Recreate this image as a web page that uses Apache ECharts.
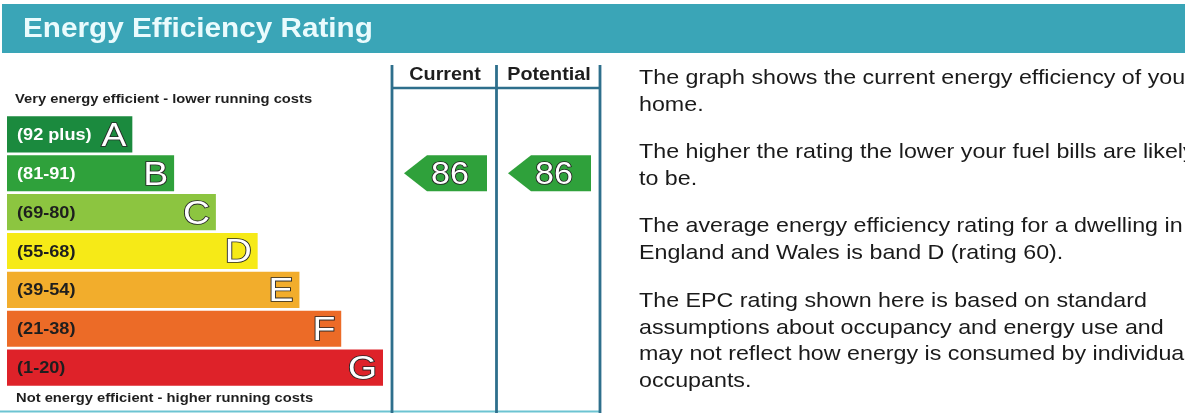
<!DOCTYPE html>
<html>
<head>
<meta charset="utf-8">
<script src="https://cdn.jsdelivr.net/npm/echarts@6/dist/echarts.min.js"></script>
<style>
  html, body { margin: 0; padding: 0; background: #ffffff; }
  #chart { width: 1185px; height: 414px; }
</style>
</head>
<body>
<div id="chart"></div>
<script>
// Energy efficiency bands, best (A) to worst (G)
const bandLetters = ['A', 'B', 'C', 'D', 'E', 'F', 'G'];
const bandRanges = ['(92 plus)', '(81-91)', '(69-80)', '(55-68)', '(39-54)', '(21-38)', '(1-20)'];
const bandMinimums = [92, 81, 69, 55, 39, 21, 1];
const bandLengths = [3, 4, 5, 6, 7, 8, 9];

// Ratings shown in the two right-hand columns
const ratingColumns = ['Current', 'Potential'];
const ratingValues = [86, 86];

const infoParagraphs = [
  'The graph shows the current energy efficiency of your\nhome.',
  'The higher the rating the lower your fuel bills are likely\nto be.',
  'The average energy efficiency rating for a dwelling in\nEngland and Wales is band D (rating 60).',
  'The EPC rating shown here is based on standard\nassumptions about occupancy and energy use and\nmay not reflect how energy is consumed by individual\noccupants.'
];

// Palette
const bandColors = ['#1b8a3e', '#2fa13b', '#8cc540', '#f6ea17', '#f2ad2c', '#ec6b27', '#de2229'];
const FONT = "'Liberation Sans', Arial, Helvetica, sans-serif";
const STRETCH = 1.1;
const frameColor = '#2e6f8c';

function bandIndexFor(rating) {
  for (let i = 0; i < bandMinimums.length; i++) {
    if (rating >= bandMinimums[i]) return i;
  }
  return bandMinimums.length - 1;
}

const bandData = bandLetters.map((l, i) => [i, bandLengths[i]]);
const ratingData = ratingValues.map((v, i) => [i, bandIndexFor(v), v]);

function renderBand(params, api) {
  const idx = api.value(0);
  const len = api.value(1);
  const start = api.coord([0, idx]);
  const end = api.coord([len, idx]);
  const h = api.size([0, 1])[1] * 0.93;
  const cy = start[1];
  const dark = idx >= 2;
  return {
    type: 'group',
    children: [
      {
        type: 'rect',
        shape: { x: start[0], y: cy - h / 2, width: end[0] - start[0], height: h },
        style: { fill: bandColors[idx] }
      },
      {
        type: 'text',
        x: start[0] + 10, y: cy + 1,
        scaleX: STRETCH,
        style: {
          text: bandRanges[idx],
          fill: dark ? '#1e1e1e' : '#ffffff',
          font: 'bold 16.5px ' + FONT,
          align: 'left', verticalAlign: 'middle',
          textAlign: 'left', textVerticalAlign: 'middle'
        }
      },
      {
        type: 'text',
        x: end[0] - 6, y: cy + 2,
        scaleX: STRETCH,
        style: {
          text: bandLetters[idx],
          fill: '#ffffff',
          stroke: '#262626',
          lineWidth: 1.7,
          font: '34px ' + FONT,
          align: 'right', verticalAlign: 'middle',
          textAlign: 'right', textVerticalAlign: 'middle'
        }
      }
    ]
  };
}

function renderRating(params, api) {
  const col = api.value(0);
  const band = api.value(1);
  const value = api.value(2);
  const c = api.coord([col, band]);
  const colW = api.size([1, 0])[0];
  const h = api.size([0, 1])[1] * 0.93;
  const colLeft = c[0] - colW / 2;
  const tip = colLeft + 12;
  const body = tip + 23;
  const right = colLeft + 95;
  const top = c[1] - h / 2;
  const bottom = c[1] + h / 2;
  return {
    type: 'group',
    children: [
      {
        type: 'polygon',
        shape: { points: [[tip, c[1]], [body, top], [right, top], [right, bottom], [body, bottom]] },
        style: { fill: bandColors[band] }
      },
      {
        type: 'text',
        x: right - 37, y: c[1] + 2,
        scaleX: STRETCH,
        style: {
          text: String(value),
          fill: '#ffffff',
          stroke: '#222222',
          lineWidth: 1.6,
          font: '31px ' + FONT,
          align: 'center', verticalAlign: 'middle',
          textAlign: 'center', textVerticalAlign: 'middle'
        }
      }
    ]
  };
}

function txt(x, y, text, font, fill, align, extra) {
  return Object.assign({
    type: 'text', x: x, y: y, scaleX: STRETCH, silent: true,
    style: {
      text: text, font: font, fill: fill,
      align: align || 'left', verticalAlign: 'middle',
      textAlign: align || 'left', textVerticalAlign: 'middle'
    }
  }, extra || {});
}

function line(x1, y1, x2, y2, color, w) {
  return { type: 'line', silent: true, shape: { x1: x1, y1: y1, x2: x2, y2: y2 }, style: { stroke: color, lineWidth: w } };
}

const paragraphTops = [65, 139, 213, 288];
const graphics = [
  { type: 'rect', silent: true, shape: { x: 2, y: 4, width: 1183, height: 49 }, style: { fill: '#3aa5b7' } },
  txt(23, 30, 'Energy Efficiency Rating', 'bold 27px ' + FONT, '#eafbfd'),
  txt(15, 99.5, 'Very energy efficient - lower running costs', 'bold 13.4px ' + FONT, '#1e1e1e'),
  txt(16, 398, 'Not energy efficient - higher running costs', 'bold 13.4px ' + FONT, '#1e1e1e'),
  txt(445, 75, ratingColumns[0], 'bold 18px ' + FONT, '#1e1e1e', 'center'),
  txt(549, 75, ratingColumns[1], 'bold 18px ' + FONT, '#1e1e1e', 'center'),
  line(0, 411.5, 601, 411.5, '#6cc4d2', 2),
  line(392, 88, 600, 88, frameColor, 2.5),
  line(392, 65, 392, 413, frameColor, 2.8),
  line(496.5, 65, 496.5, 413, frameColor, 2.8),
  line(600, 65, 600, 413, frameColor, 2.8)
];
infoParagraphs.forEach((p, i) => {
  graphics.push({
    type: 'text', x: 639, y: paragraphTops[i], scaleX: 1.107, silent: true,
    style: {
      text: p, font: '21px ' + FONT, fill: '#1a1a1a', lineHeight: 26.5,
      align: 'left', verticalAlign: 'top', textAlign: 'left', textVerticalAlign: 'top'
    }
  });
});

const chart = echarts.init(document.getElementById('chart'), null, { renderer: 'canvas' });
chart.setOption({
  animation: false,
  backgroundColor: '#ffffff',
  grid: [
    { left: 7, top: 115, width: 376, height: 272 },
    { left: 392, top: 115, width: 208, height: 272 }
  ],
  xAxis: [
    { type: 'value', gridIndex: 0, min: 0, max: 9, show: false },
    { type: 'category', gridIndex: 1, data: ratingColumns, show: false }
  ],
  yAxis: [
    { type: 'category', gridIndex: 0, data: bandLetters, inverse: true, show: false },
    { type: 'category', gridIndex: 1, data: bandLetters, inverse: true, show: false }
  ],
  series: [
    { type: 'custom', xAxisIndex: 0, yAxisIndex: 0, data: bandData, renderItem: renderBand, clip: false, silent: true },
    { type: 'custom', xAxisIndex: 1, yAxisIndex: 1, data: ratingData, renderItem: renderRating, clip: false, silent: true }
  ],
  graphic: graphics
});
</script>
</body>
</html>
